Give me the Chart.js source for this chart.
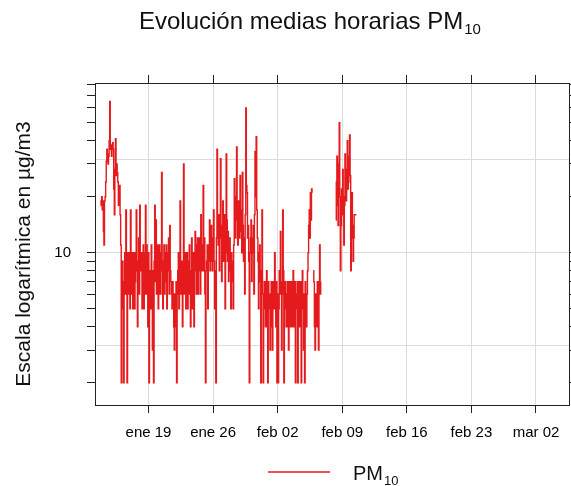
<!DOCTYPE html>
<html lang="es">
<head>
<meta charset="utf-8">
<title>PM10</title>
<script src="https://cdn.jsdelivr.net/npm/chart.js@4"></script>
<style>
  body { margin: 0; background: #fff; }
</style>
</head>
<body>
<canvas id="chart" width="571" height="486"></canvas>
<script>
// hourly means sampled every 1.5 h from 13 Jan 19:00 (day-of-year, 1 Jan = 0)
const startDay = 12 + 19 / 24;
const stepHours = 1.5;

const pm10 = [
  // 13-16 ene
  18, 19, 20, 17, 19, 13, 11, 19, 20, 24, 31, 36, 34, 30, 33, 40, 65, 36,
  38, 33, 37, 39, 36, 22, 16, 28, 41, 26, 30, 27, 24, 18, 20, 23, 16, 11,
  // 16-19 ene
  2, 6, 9, 5, 2, 7, 10, 6, 17, 9, 2, 10, 7, 6, 10, 5, 17, 6, 8, 10, 5, 8, 10, 5, 7, 10,
  17, 8, 4, 9, 12, 6, 18, 10, 8, 10, 5, 9, 11, 5, 6, 10, 18, 6, 11, 7, 4, 10, 2, 6, 8, 5,
  // 19-25 ene
  11, 6, 3, 8, 2, 9, 18, 7, 15, 6, 9, 11, 5, 9, 11, 6, 6, 10, 27, 8, 5, 9, 11, 6, 7,
  10, 11, 5, 8, 10, 12, 6, 14, 8, 7, 6, 5, 7, 6, 4, 3, 6, 4, 7, 2, 6, 8, 10, 5, 8,
  19, 6, 8, 9, 4, 7, 30, 6, 9, 10, 5, 8, 10, 5, 6, 9, 11, 6, 4, 8, 12, 5, 7, 10, 4,
  9, 13, 8, 6, 11, 12, 6, 8, 12, 9, 6, 16, 9, 8, 11, 23, 8, 12, 6, 2, 8, 9, 11, 5, 9,
  // 25 ene - 31 ene
  11, 15, 8, 13, 14, 9, 8, 12, 17, 9, 5, 8, 2, 12, 36, 14, 11, 16, 8, 13, 32, 12, 7, 14, 19,
  9, 12, 16, 5, 10, 34, 15, 9, 13, 7, 10, 12, 8, 5, 10, 9, 7, 5, 11, 25, 16, 12, 20, 37,
  15, 11, 19, 15, 12, 26, 17, 13, 10, 27, 14, 9, 12, 6, 16, 60, 23, 21, 12, 14, 9, 2, 10, 12,
  15, 7, 12, 10, 14, 6, 16, 35, 20, 42, 17, 12, 9, 5, 10, 11, 7, 2, 8, 17, 6, 2, 6, 7, 5,
  // 31 ene - 7 feb
  4, 7, 8, 4, 2, 7, 6, 5, 3, 6, 7, 4, 3, 7, 6, 5, 10, 6, 4, 7, 2, 6, 2, 5, 8,
  6, 13, 7, 3, 6, 17, 8, 2, 6, 7, 5, 4, 6, 7, 4, 3, 7, 6, 4, 7, 5, 4, 7, 8, 4,
  5, 7, 2, 5, 6, 7, 2, 6, 7, 4, 5, 7, 2, 6, 8, 5, 3, 6, 2, 7, 5, 4, 6, 8, 10,
  14, 17, 12, 21, 15, 22, 21, null, 8, 7, 4, 3, 6, 6, 4, 7, 6, 3, 7, 11, 6, 7, null,
  // sin datos
  null, null, null, null, null, null, null, null, null, null, null, null,
  null, null, null, null, null, null, null, null, null, null, null, null,
  // 8-10 feb
  15, 24, 33, 18, 14, 30, 50, 20, 8, 14, 22, 16, 28, 20, 11, 18, 34, 25, 19,
  28, 40, 22, 24, 33, 43, 26, 8, 12, 21, 14, 9, 12, 16, 16, 16, 16, 16
];

const tickDays = [18, 25, 32, 39, 46, 53, 60];
const tickLabels = ["ene 19", "ene 26", "feb 02", "feb 09", "feb 16", "feb 23", "mar 02"];
const yTicks = [2, 3, 4, 5, 6, 7, 8, 9, 10, 20, 30, 40, 50, 60, 70, 80];
const yLabelled = [10];
const yGridLevels = [3.1623, 10, 31.623];

const dayMin = 12.2;
const dayMax = 63.58;
const yMin = 1.52;
const yMax = 81.7;

const RED = "#e41a1c";
const AXIS = "#222";
const GRID = "#dcdcdc";
const FONT = "'Liberation Sans', Arial, sans-serif";

const points = pm10.map((v, i) => ({ x: startDay + (i * stepHours) / 24, y: v }));

function setTicks(values) {
  return (scale) => {
    scale.ticks = values.map((v) => ({ value: v }));
  };
}

// text with a subscript after it, starting at x
function drawSub(ctx, text, sub, x, y, size, subSize) {
  ctx.font = `${size}px ${FONT}`;
  ctx.textAlign = "left";
  ctx.textBaseline = "alphabetic";
  ctx.fillText(text, x, y);
  const w = ctx.measureText(text).width;
  ctx.font = `${subSize}px ${FONT}`;
  ctx.fillText(sub, x + w + 1, y + subSize * 0.35);
}

const textPlugin = {
  id: "pmText",
  afterDraw(chart) {
    const ctx = chart.ctx;
    ctx.save();
    ctx.fillStyle = "#111";
    drawSub(ctx, "Evolución medias horarias PM", "10", 139, 29, 24, 15);

    // y axis title
    ctx.save();
    ctx.translate(24, 254);
    ctx.rotate(-Math.PI / 2);
    ctx.font = `21px ${FONT}`;
    ctx.textAlign = "center";
    ctx.textBaseline = "middle";
    ctx.fillText("Escala logarítmica en µg/m3", 0, 0);
    ctx.restore();

    // legend
    ctx.strokeStyle = RED;
    ctx.lineWidth = 1.5;
    ctx.beginPath();
    ctx.moveTo(268, 472);
    ctx.lineTo(330, 472);
    ctx.stroke();
    drawSub(ctx, "PM", "10", 353, 480, 20, 13);
    ctx.restore();
  }
};

new Chart(document.getElementById("chart"), {
  type: "line",
  data: {
    datasets: [
      {
        label: "PM10",
        data: points,
        borderColor: RED,
        borderWidth: 1.4,
        pointRadius: 0,
        stepped: true,
        spanGaps: false
      }
    ]
  },
  options: {
    responsive: false,
    animation: false,
    layout: { padding: { top: 75, bottom: 36, left: 0, right: 0 } },
    plugins: {
      legend: { display: false },
      tooltip: { enabled: false }
    },
    scales: {
      x: {
        type: "linear",
        position: "bottom",
        min: dayMin,
        max: dayMax,
        afterBuildTicks: setTicks(tickDays),
        afterFit: (s) => { s.height = 45; },
        ticks: {
          callback: (v) => tickLabels[tickDays.indexOf(v)],
          font: { family: FONT, size: 15 },
          color: "#000",
          padding: 11,
          maxRotation: 0,
          autoSkip: false
        },
        grid: { color: GRID, tickColor: AXIS, tickLength: 8, lineWidth: 1 },
        border: { color: AXIS, width: 1 }
      },
      xTop: {
        type: "linear",
        position: "top",
        min: dayMin,
        max: dayMax,
        afterBuildTicks: setTicks(tickDays),
        afterFit: (s) => { s.height = 8; },
        ticks: { display: false },
        grid: { drawOnChartArea: false, tickColor: AXIS, tickLength: 8 },
        border: { color: AXIS, width: 1 }
      },
      y: {
        type: "logarithmic",
        position: "left",
        min: yMin,
        max: yMax,
        afterBuildTicks: setTicks(yTicks),
        afterFit: (s) => { s.width = 95; },
        ticks: {
          callback: (v) => (yLabelled.includes(v) ? String(v) : ""),
          font: { family: FONT, size: 15 },
          color: "#000",
          padding: 16,
          autoSkip: false
        },
        grid: { drawOnChartArea: false, tickColor: AXIS, tickLength: 8 },
        border: { color: AXIS, width: 1 }
      },
      yGrid: {
        type: "logarithmic",
        position: "left",
        min: yMin,
        max: yMax,
        afterBuildTicks: setTicks(yGridLevels),
        afterFit: (s) => { s.width = 0; },
        ticks: { display: false },
        grid: { color: GRID, drawTicks: false, lineWidth: 1 },
        border: { display: false }
      },
      yRight: {
        type: "logarithmic",
        position: "right",
        min: yMin,
        max: yMax,
        afterBuildTicks: setTicks(yTicks),
        afterFit: (s) => { s.width = 2; },
        ticks: { display: false },
        grid: { drawOnChartArea: false, tickColor: AXIS, tickLength: 3 },
        border: { color: AXIS, width: 1 }
      }
    }
  },
  plugins: [textPlugin]
});
</script>
</body>
</html>
